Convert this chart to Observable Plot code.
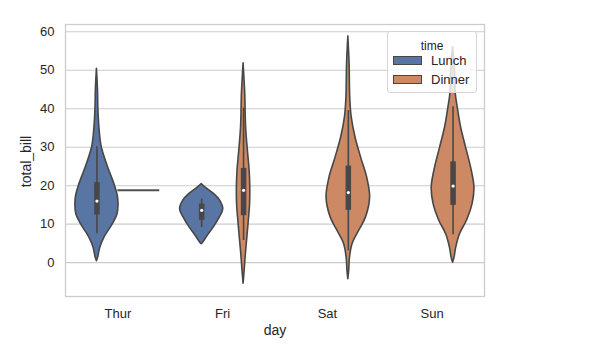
<!DOCTYPE html>
<html>
<head>
<meta charset="utf-8">
<script src="https://cdn.jsdelivr.net/npm/d3@7"></script>
<script src="https://cdn.jsdelivr.net/npm/@observablehq/plot@0.6"></script>
<style>
  html, body { margin: 0; padding: 0; background: #fff; }
  #wrap { position: relative; width: 596px; height: 359px; font-family: "Liberation Sans", Arial, sans-serif; }
  #legend { position: absolute; left: 387px; top: 31px; width: 88px; height: 60px;
    background: rgba(255,255,255,0.8); border: 1px solid #d4d4d4; border-radius: 3px; color: #262626; }
  #legend .title { position: absolute; left: 0; width: 100%; top: 7px; text-align: center; font-size: 12px; }
  #legend .row { position: absolute; left: 5px; height: 14px; font-size: 13px; line-height: 14px; white-space: nowrap; }
  #legend .sw { display: inline-block; width: 27px; height: 7px; border: 1px solid #474747; vertical-align: middle; margin-right: 9px; position: relative; top: -1px; }
</style>
</head>
<body>
<div id="wrap"></div>
<script>
// ---- data ----
const days = ["Thur", "Fri", "Sat", "Sun"];
const times = ["Lunch", "Dinner"];
const yTicks = [0, 10, 20, 30, 40, 50, 60];

// violin outlines: [total_bill, half-width relative to the hue slot]
const thurLunchProfile = [[50.4,0],[45,0.05],[40,0.07],[35,0.12],[30,0.23],[25,0.52],[20,0.86],[17.5,0.99],[15,1.03],[12.5,0.98],[10,0.76],[6.5,0.36],[3.9,0.16],[1.3,0.06],[0.4,0]];
const friLunchProfile = [[20.4,0],[19.5,0.19],[17.8,0.6],[16.1,0.88],[13.9,1.03],[11.7,0.86],[9.1,0.57],[7,0.29],[5.2,0.07],[4.8,0]];
const friDinnerProfile = [[51.8,0],[47,0.05],[43.8,0.08],[35.2,0.12],[28.2,0.22],[23.9,0.29],[19.5,0.32],[15.2,0.31],[10.9,0.25],[6.5,0.18],[2.2,0.11],[-2.2,0.05],[-5.5,0]];
const satDinnerProfile = [[58.8,0],[51.7,0.06],[43,0.09],[37.8,0.16],[32.6,0.34],[27.3,0.61],[22.1,0.9],[16.9,1.04],[11.7,0.84],[8.3,0.52],[4.8,0.2],[1.3,0.08],[-2.2,0.04],[-4.3,0]];
const sunDinnerProfile = [[56,0],[49,0.1],[43.8,0.13],[40.4,0.22],[35.2,0.38],[29.9,0.62],[24.7,0.86],[19.5,1.02],[15.2,0.93],[10.9,0.66],[7.4,0.33],[3.9,0.15],[1.3,0.07],[0,0]];

// Thursday dinner has a single observation
const thurDinnerBills = [18.8];

// inner box statistics
const boxDays  = ["Thur", "Fri", "Fri", "Sat", "Sun"];
const boxTimes = ["Lunch", "Lunch", "Dinner", "Dinner", "Dinner"];
const whiskerLow  = [7.5, 9.1, 5.75, 3.07, 7.25];
const whiskerHigh = [30.1, 16.5, 40.17, 39.5, 40.5];
const q1     = [12.4, 11.0, 12.2, 13.6, 14.9];
const q3     = [20.8, 15.2, 24.5, 25.1, 26.2];
const median = [16.0, 13.6, 18.8, 18.2, 19.9];

// ---- build tables ----
const profiles = [
  ["Thur", "Lunch", thurLunchProfile],
  ["Fri", "Lunch", friLunchProfile],
  ["Fri", "Dinner", friDinnerProfile],
  ["Sat", "Dinner", satDinnerProfile],
  ["Sun", "Dinner", sunDinnerProfile]
];
const violinRows = profiles.flatMap(([day, time, pts]) =>
  pts.map(([v, w]) => ({id: day + "-" + time, day, time, v, w})));
const boxes = boxDays.map((day, i) => ({day, time: boxTimes[i], lo: whiskerLow[i], hi: whiskerHigh[i], q1: q1[i], q3: q3[i], med: median[i]}));
const singles = thurDinnerBills.map(v => ({day: "Thur", time: "Dinner", v}));

const slot = 0.2;               // half of the dodged hue slot (in band units)
const hueOffset = {Lunch: -slot, Dinner: slot};
const cx = d => days.indexOf(d.day) + hueOffset[d.time];

const colors = ["#5875a4", "#cc8963"];
const edge = "#474747";

const chart = Plot.plot({
  width: 596,
  height: 359,
  marginLeft: 65,
  marginRight: 112,
  marginTop: 24,
  marginBottom: 63,
  style: {fontFamily: "'Liberation Sans', Arial, sans-serif", fontSize: "13px", color: "#262626", background: "#fff"},
  x: {domain: [-0.5, 3.5], ticks: days.map((d, i) => i), tickFormat: i => days[i], tickSize: 0, tickPadding: 12, label: null},
  y: {domain: [-8.8, 61.9], ticks: yTicks, tickSize: 0, tickPadding: 11, label: null},
  color: {domain: times, range: colors},
  marks: [
    Plot.ruleY(yTicks, {stroke: "#cccccc", strokeWidth: 1.1}),
    Plot.areaX(violinRows, {
      z: "id",
      y: "v",
      x1: d => cx(d) - d.w * slot,
      x2: d => cx(d) + d.w * slot,
      fill: "time",
      stroke: edge,
      strokeWidth: 1.6,
      curve: "catmull-rom"
    }),
    Plot.ruleY(singles, {y: "v", x1: d => cx(d) - slot, x2: d => cx(d) + slot, stroke: "#505050", strokeWidth: 2}),
    Plot.ruleX(boxes, {x: cx, y1: "lo", y2: "hi", stroke: edge, strokeWidth: 1.6}),
    Plot.ruleX(boxes, {x: cx, y1: "q1", y2: "q3", stroke: edge, strokeWidth: 5.5}),
    Plot.dot(boxes, {x: cx, y: "med", r: 1.6, fill: "white", stroke: "none"}),
    Plot.frame({stroke: "#cccccc", strokeWidth: 1.3}),
    Plot.text(["day"], {frameAnchor: "bottom", dy: 34, lineAnchor: "middle", fontSize: 14, fill: "#262626"}),
    Plot.text(["total_bill"], {frameAnchor: "left", dx: -39, dy: 1, rotate: -90, lineAnchor: "middle", textAnchor: "middle", fontSize: 14, fill: "#262626"})
  ]
});

const wrap = document.getElementById("wrap");
wrap.appendChild(chart);

const legend = document.createElement("div");
legend.id = "legend";
legend.innerHTML = `<div class="title">time</div>` +
  times.map((t, i) => `<div class="row" style="top:${22 + i * 19}px"><span class="sw" style="background:${colors[i]}"></span>${t}</div>`).join("");
wrap.appendChild(legend);
</script>
</body>
</html>
